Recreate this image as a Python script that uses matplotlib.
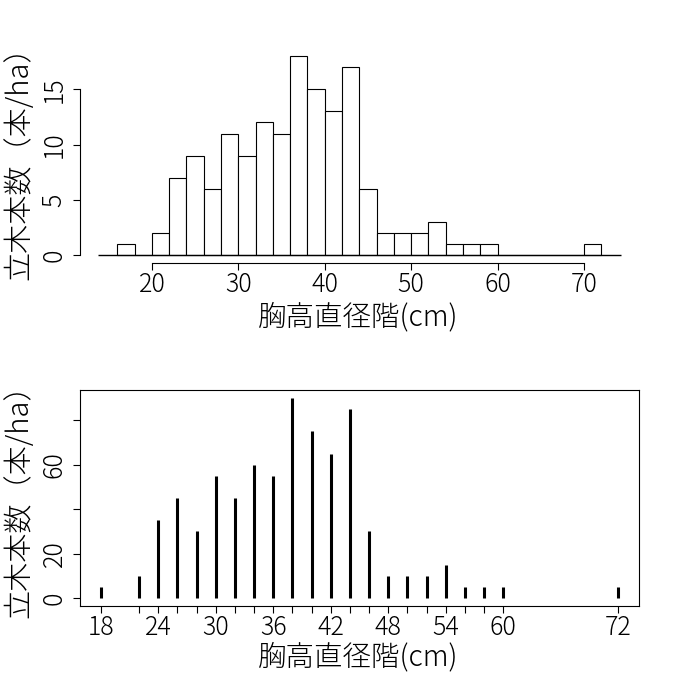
import numpy as np
import matplotlib
matplotlib.use("Agg")
import matplotlib.pyplot as plt

plt.rcParams['font.family'] = ['Noto Sans CJK JP', 'DejaVu Sans']

# diameter classes (cm), class width 2
bin_left = [16, 18, 20, 22, 24, 26, 28, 30, 32, 34, 36, 38, 40, 42, 44,
            46, 48, 50, 52, 54, 56, 58, 60, 62, 64, 66, 68, 70]
counts = [1, 0, 2, 7, 9, 6, 11, 9, 12, 11, 18, 15, 13, 17, 6,
          2, 2, 2, 3, 1, 1, 1, 0, 0, 0, 0, 0, 1]

# per-hectare values by class (upper bound of class)
dbh_class = [18, 22, 24, 26, 28, 30, 32, 34, 36, 38, 40, 42, 44,
             46, 48, 50, 52, 54, 56, 58, 60, 72]
per_ha = [5, 10, 35, 45, 30, 55, 45, 60, 55, 90, 75, 65, 85,
          30, 10, 10, 10, 15, 5, 5, 5, 5]
label_classes = [18, 24, 30, 36, 42, 48, 54, 60, 72]

xlab = "胸高直径階(cm)"
ylab = "立木本数（本/ha）"

fig = plt.figure(figsize=(6.87, 6.86), dpi=100)

# ---- top: histogram
ax1 = fig.add_axes([0.1164, 0.6162, 0.8137, 0.3138])
ax1.bar(bin_left, counts, width=2, align='edge', facecolor='white',
        edgecolor='black', linewidth=0.8)
lo = bin_left[0] - 0.04 * (bin_left[-1] + 2 - bin_left[0])
hi = bin_left[-1] + 2 + 0.04 * (bin_left[-1] + 2 - bin_left[0])
ax1.hlines(0, lo, hi, color='black', linewidth=1.0)
ax1.set_xlim(11.67, 76.37)
ax1.set_ylim(-0.72, 18.72)
for s in ['top', 'right']:
    ax1.spines[s].set_visible(False)
ax1.spines['left'].set_bounds(0, 15)
ax1.spines['bottom'].set_bounds(20, 70)
ax1.set_xticks([20, 30, 40, 50, 60, 70])
ax1.set_yticks([0, 5, 10, 15])
ax1.set_yticklabels(['0', '5', '10', '15'], rotation=90, va='center')

# ---- bottom: per-ha spikes
ax2 = fig.add_axes([0.1164, 0.1166, 0.8137, 0.3149])
ax2.vlines(dbh_class, 0, per_ha, color='black', linewidth=2.2)
ax2.set_xlim(15.84, 74.16)
ax2.set_ylim(-3.6, 93.6)
ax2.set_xticks(dbh_class)
ax2.set_xticklabels([str(c) if c in label_classes else '' for c in dbh_class])
ax2.set_yticks([0, 20, 40, 60, 80])
ax2.set_yticklabels(['0', '20', '', '60', ''], rotation=90, va='center')

for ax, ly in [(ax1, 0.50), (ax2, 0.52)]:
    for s in ax.spines.values():
        s.set_linewidth(0.8)
    ax.tick_params(direction='out', length=5, width=0.8, labelsize=18,
                   colors='black')
    ax.tick_params(axis='x', pad=1)
    ax.tick_params(axis='y', pad=4)
    ax.set_xlabel(xlab, fontsize=20.5, fontweight='light')
    ax.set_ylabel(ylab, fontsize=21, fontweight='light')
    ax.xaxis.label.set_va('center')
    ax.yaxis.label.set_va('center')
    ax.yaxis.set_label_coords(-0.108, ly)
    for t in ax.get_xticklabels() + ax.get_yticklabels():
        t.set_fontweight('light')

ax1.xaxis.set_label_coords(0.497, -0.249)
ax2.xaxis.set_label_coords(0.497, -0.236)

fig.savefig("out.png", dpi=100)
